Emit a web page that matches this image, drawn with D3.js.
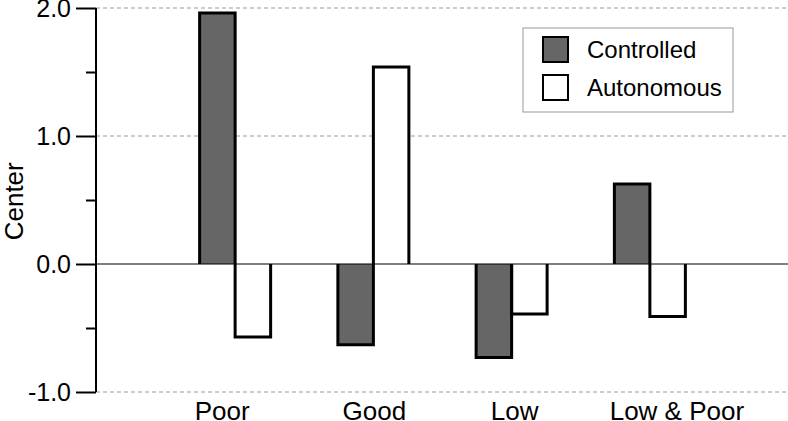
<!DOCTYPE html>
<html>
<head>
<meta charset="utf-8">
<script src="https://cdn.jsdelivr.net/npm/d3@7"></script>
<style>
  html, body { margin: 0; padding: 0; background: #fff; }
  svg { display: block; font-family: "Liberation Sans", Arial, Helvetica, sans-serif; }
</style>
</head>
<body>
<svg id="chart" width="788" height="421"></svg>
<script>
const categories = ["Poor", "Good", "Low", "Low & Poor"];
const seriesNames = ["Controlled", "Autonomous"];
const controlled = [1.96, -0.63, -0.73, 0.625];
const autonomous = [-0.57, 1.54, -0.39, -0.41];
const majorTicks = [-1, 0, 1, 2];
const minorTicks = [-0.5, 0.5, 1.5];
const gridValues = [-1, 1, 2];

const seriesValues = [controlled, autonomous];
const fills = ["#666666", "#ffffff"];

const svg = d3.select("#chart");
const W = 788, H = 421;
const axisX = 96;

const y = d3.scaleLinear().domain([-1, 2]).range([392, 8]);
const x = d3.scaleBand().domain(categories).range([166, 719]).padding(0);
const bw = 35.5;
const xs = d3.scaleBand().domain(seriesNames)
  .range([x.bandwidth() / 2 - bw, x.bandwidth() / 2 + bw]).padding(0);
// label nudges (layout only) so category labels sit as in the reference
const labelShift = { "Poor": -13, "Good": 1, "Low": 3, "Low & Poor": 27 };

// gridlines
svg.append("g").selectAll("line").data(gridValues).join("line")
  .attr("x1", axisX).attr("x2", W)
  .attr("y1", d => y(d)).attr("y2", d => y(d))
  .attr("stroke", "#9a9a9a").attr("stroke-width", 1)
  .attr("stroke-dasharray", "4,3");

// bars
const groups = svg.append("g").selectAll("g").data(categories).join("g")
  .attr("transform", d => `translate(${x(d)},0)`);

seriesNames.forEach((s, si) => {
  groups.append("rect")
    .attr("x", xs(s))
    .attr("width", xs.bandwidth())
    .attr("y", (d, i) => Math.min(y(seriesValues[si][i]), y(0)))
    .attr("height", (d, i) => Math.abs(y(seriesValues[si][i]) - y(0)))
    .attr("fill", fills[si]);
});
seriesNames.forEach((s, si) => {
  groups.append("path")
    .attr("d", (d, i) => {
      const x0 = xs(s), x1 = xs(s) + xs.bandwidth();
      const yv = y(seriesValues[si][i]), y0 = y(0);
      return `M${x0},${y0}L${x0},${yv}L${x1},${yv}L${x1},${y0}`;
    })
    .attr("fill", "none").attr("stroke", "#000").attr("stroke-width", 3)
    .attr("stroke-linejoin", "miter").attr("stroke-linecap", "butt");
});

// zero line
svg.append("line")
  .attr("x1", axisX).attr("x2", W)
  .attr("y1", y(0)).attr("y2", y(0))
  .attr("stroke", "#000").attr("stroke-width", 1.2);

// y axis: minor ticks
const minorAxis = d3.axisLeft(y).tickValues(minorTicks).tickSize(10).tickFormat("");
const gMinor = svg.append("g").attr("transform", `translate(${axisX},0)`).call(minorAxis);
gMinor.select(".domain").remove();
gMinor.selectAll("line").attr("stroke", "#000").attr("stroke-width", 2);

// y axis: major
const fmt = d3.format(".1f");
const majorAxis = d3.axisLeft(y).tickValues(majorTicks).tickSize(20).tickPadding(5)
  .tickFormat(d => fmt(d).replace("\u2212", "-"));
const gMajor = svg.append("g").attr("transform", `translate(${axisX},0)`).call(majorAxis);
gMajor.select(".domain").attr("d", `M0,${y(-1)}V${y(2)}`).attr("stroke", "#000").attr("stroke-width", 2);
gMajor.selectAll("line").attr("stroke", "#000").attr("stroke-width", 2);
gMajor.selectAll("text").attr("font-size", 25).attr("fill", "#000")
  .attr("font-family", "Liberation Sans, Arial, sans-serif");

// x axis labels
const xAxis = d3.axisBottom(x).tickSize(0).tickPadding(0);
const gx = svg.append("g").attr("transform", `translate(0,${y(-1)})`).call(xAxis);
gx.select(".domain").remove();
gx.selectAll("text").attr("font-size", 26).attr("fill", "#000")
  .attr("dy", null).attr("y", 28)
  .attr("dx", d => labelShift[d])
  .attr("font-family", "Liberation Sans, Arial, sans-serif");

// y label
svg.append("text")
  .attr("transform", `translate(23,${y(0.49)}) rotate(-90)`)
  .attr("text-anchor", "middle")
  .attr("font-size", 26).attr("fill", "#000")
  .text("Center");

// legend
const lg = svg.append("g");
lg.append("rect").attr("x", 523).attr("y", 28).attr("width", 210).attr("height", 84)
  .attr("fill", "#fff").attr("stroke", "#999").attr("stroke-width", 1);
const items = lg.selectAll("g.item").data(seriesNames).join("g").attr("class", "item")
  .attr("transform", (d, i) => `translate(543,${37 + i * 38})`);
items.append("rect").attr("width", 25).attr("height", 25)
  .attr("fill", (d, i) => fills[i]).attr("stroke", "#000").attr("stroke-width", 2);
items.append("text").attr("x", 44).attr("y", 21)
  .attr("font-size", 24).attr("fill", "#000").text(d => d);
</script>
</body>
</html>
